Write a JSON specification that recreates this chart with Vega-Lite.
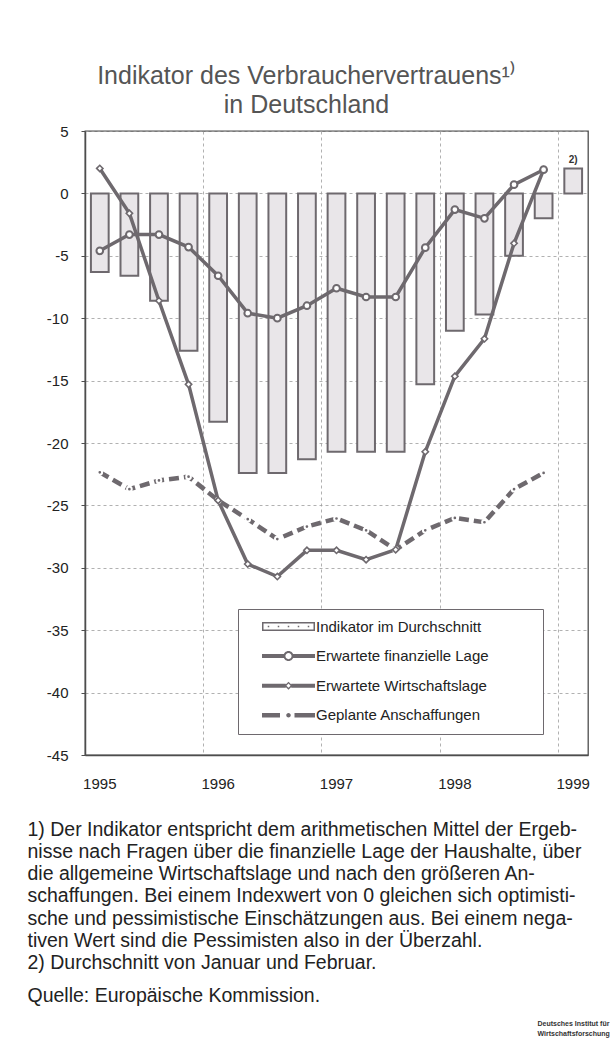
{
  "$schema": "https://vega.github.io/schema/vega-lite/v6.json",
  "width": 503,
  "height": 624,
  "autosize": {"type": "none"},
  "padding": {"left": 85, "top": 131, "right": 24, "bottom": 289},
  "background": "white",
  "config": {
    "font": "Liberation Sans",
    "view": {"stroke": "#4d4d4d", "strokeWidth": 1.3},
    "axis": {"labelFont": "Liberation Sans", "titleFont": "Liberation Sans"},
    "legend": {"labelFont": "Liberation Sans"}
  },
  "title": {
    "text": ["Indikator des Verbrauchervertrauens¹⁾", "in Deutschland"],
    "font": "Liberation Sans",
    "fontSize": 25,
    "fontWeight": "normal",
    "color": "#555555",
    "lineHeight": 29,
    "anchor": "middle",
    "frame": "group",
    "dx": -30,
    "offset": 6
  },
  "data": {
    "values": [
      {"q": "1995-1", "series": "Indikator im Durchschnitt", "value": -6.3},
      {"q": "1995-2", "series": "Indikator im Durchschnitt", "value": -6.6},
      {"q": "1995-3", "series": "Indikator im Durchschnitt", "value": -8.6},
      {"q": "1995-4", "series": "Indikator im Durchschnitt", "value": -12.6},
      {"q": "1996-1", "series": "Indikator im Durchschnitt", "value": -18.3},
      {"q": "1996-2", "series": "Indikator im Durchschnitt", "value": -22.4},
      {"q": "1996-3", "series": "Indikator im Durchschnitt", "value": -22.4},
      {"q": "1996-4", "series": "Indikator im Durchschnitt", "value": -21.3},
      {"q": "1997-1", "series": "Indikator im Durchschnitt", "value": -20.7},
      {"q": "1997-2", "series": "Indikator im Durchschnitt", "value": -20.7},
      {"q": "1997-3", "series": "Indikator im Durchschnitt", "value": -20.7},
      {"q": "1997-4", "series": "Indikator im Durchschnitt", "value": -15.3},
      {"q": "1998-1", "series": "Indikator im Durchschnitt", "value": -11.0},
      {"q": "1998-2", "series": "Indikator im Durchschnitt", "value": -9.7},
      {"q": "1998-3", "series": "Indikator im Durchschnitt", "value": -5.0},
      {"q": "1998-4", "series": "Indikator im Durchschnitt", "value": -2.0},
      {"q": "1999-1", "series": "Indikator im Durchschnitt", "value": 2.0, "note": "2)"},

      {"q": "1995-1", "series": "Erwartete finanzielle Lage", "value": -4.6},
      {"q": "1995-2", "series": "Erwartete finanzielle Lage", "value": -3.3},
      {"q": "1995-3", "series": "Erwartete finanzielle Lage", "value": -3.3},
      {"q": "1995-4", "series": "Erwartete finanzielle Lage", "value": -4.3},
      {"q": "1996-1", "series": "Erwartete finanzielle Lage", "value": -6.6},
      {"q": "1996-2", "series": "Erwartete finanzielle Lage", "value": -9.6},
      {"q": "1996-3", "series": "Erwartete finanzielle Lage", "value": -10.0},
      {"q": "1996-4", "series": "Erwartete finanzielle Lage", "value": -9.0},
      {"q": "1997-1", "series": "Erwartete finanzielle Lage", "value": -7.6},
      {"q": "1997-2", "series": "Erwartete finanzielle Lage", "value": -8.3},
      {"q": "1997-3", "series": "Erwartete finanzielle Lage", "value": -8.3},
      {"q": "1997-4", "series": "Erwartete finanzielle Lage", "value": -4.35},
      {"q": "1998-1", "series": "Erwartete finanzielle Lage", "value": -1.3},
      {"q": "1998-2", "series": "Erwartete finanzielle Lage", "value": -2.0},
      {"q": "1998-3", "series": "Erwartete finanzielle Lage", "value": 0.7},
      {"q": "1998-4", "series": "Erwartete finanzielle Lage", "value": 1.9},

      {"q": "1995-1", "series": "Erwartete Wirtschaftslage", "value": 2.0},
      {"q": "1995-2", "series": "Erwartete Wirtschaftslage", "value": -1.6},
      {"q": "1995-3", "series": "Erwartete Wirtschaftslage", "value": -8.6},
      {"q": "1995-4", "series": "Erwartete Wirtschaftslage", "value": -15.3},
      {"q": "1996-1", "series": "Erwartete Wirtschaftslage", "value": -24.6},
      {"q": "1996-2", "series": "Erwartete Wirtschaftslage", "value": -29.7},
      {"q": "1996-3", "series": "Erwartete Wirtschaftslage", "value": -30.7},
      {"q": "1996-4", "series": "Erwartete Wirtschaftslage", "value": -28.6},
      {"q": "1997-1", "series": "Erwartete Wirtschaftslage", "value": -28.6},
      {"q": "1997-2", "series": "Erwartete Wirtschaftslage", "value": -29.35},
      {"q": "1997-3", "series": "Erwartete Wirtschaftslage", "value": -28.55},
      {"q": "1997-4", "series": "Erwartete Wirtschaftslage", "value": -20.7},
      {"q": "1998-1", "series": "Erwartete Wirtschaftslage", "value": -14.65},
      {"q": "1998-2", "series": "Erwartete Wirtschaftslage", "value": -11.65},
      {"q": "1998-3", "series": "Erwartete Wirtschaftslage", "value": -4.0},
      {"q": "1998-4", "series": "Erwartete Wirtschaftslage", "value": 1.9},

      {"q": "1995-1", "series": "Geplante Anschaffungen", "value": -22.35},
      {"q": "1995-2", "series": "Geplante Anschaffungen", "value": -23.7},
      {"q": "1995-3", "series": "Geplante Anschaffungen", "value": -23.0},
      {"q": "1995-4", "series": "Geplante Anschaffungen", "value": -22.7},
      {"q": "1996-1", "series": "Geplante Anschaffungen", "value": -24.6},
      {"q": "1996-2", "series": "Geplante Anschaffungen", "value": -26.1},
      {"q": "1996-3", "series": "Geplante Anschaffungen", "value": -27.7},
      {"q": "1996-4", "series": "Geplante Anschaffungen", "value": -26.7},
      {"q": "1997-1", "series": "Geplante Anschaffungen", "value": -26.05},
      {"q": "1997-2", "series": "Geplante Anschaffungen", "value": -27.0},
      {"q": "1997-3", "series": "Geplante Anschaffungen", "value": -28.55},
      {"q": "1997-4", "series": "Geplante Anschaffungen", "value": -27.0},
      {"q": "1998-1", "series": "Geplante Anschaffungen", "value": -26.0},
      {"q": "1998-2", "series": "Geplante Anschaffungen", "value": -26.35},
      {"q": "1998-3", "series": "Geplante Anschaffungen", "value": -23.7},
      {"q": "1998-4", "series": "Geplante Anschaffungen", "value": -22.4}
    ]
  },
  "layer": [
    {
      "encoding": {
        "x": {
          "field": "q",
          "type": "ordinal",
          "scale": {"paddingInner": 0, "paddingOuter": 0},
          "axis": {
            "bandPosition": 0,
            "labelOffset": 0,
            "values": ["1995-1", "1996-1", "1997-1", "1998-1", "1999-1"],
            "labelExpr": "substring(datum.label, 0, 4)",
            "labelAngle": 0,
            "labelFontSize": 15,
            "labelColor": "#222222",
            "labelPadding": 21,
            "ticks": false,
            "domainColor": "#4d4d4d",
            "domainWidth": 1.5,
            "grid": true,
            "gridColor": "#9d9d9d",
            "gridDash": [3, 3],
            "gridWidth": 0.8,
            "title": [
              "1) Der Indikator entspricht dem arithmetischen Mittel der Ergeb-",
              "nisse nach Fragen über die finanzielle Lage der Haushalte, über",
              "die allgemeine Wirtschaftslage und nach den größeren An-",
              "schaffungen. Bei einem Indexwert von 0 gleichen sich optimisti-",
              "sche und pessimistische Einschätzungen aus. Bei einem nega-",
              "tiven Wert sind die Pessimisten also in der Überzahl.",
              "2) Durchschnitt von Januar und Februar."
            ],
            "titleFontSize": 19.5,
            "titleFontWeight": "normal",
            "titleColor": "#222222",
            "titleAnchor": "start",
            "titleAlign": "left",
            "titleBaseline": "alphabetic",
            "titleX": -58,
            "titleY": 80,
            "titleLineHeight": 22.3,
            "titleLimit": 1000
          }
        },
        "y": {
          "field": "value",
          "type": "quantitative",
          "scale": {"domain": [-45, 5], "nice": false, "zero": false},
          "axis": {
            "values": [-45, -40, -35, -30, -25, -20, -15, -10, -5, 0, 5],
            "labelExpr": "'' + datum.value",
            "labelFontSize": 15,
            "labelColor": "#222222",
            "tickSize": 4,
            "tickColor": "#4d4d4d",
            "labelPadding": 13,
            "domainColor": "#4d4d4d",
            "domainWidth": 1.5,
            "grid": true,
            "gridColor": "#9d9d9d",
            "gridDash": [3, 3],
            "gridWidth": 0.8,
            "title": "Quelle: Europäische Kommission.",
            "titleAngle": 0,
            "titleAlign": "left",
            "titleBaseline": "alphabetic",
            "titleX": -58,
            "titleY": 870,
            "titleFontSize": 19.5,
            "titleFontWeight": "normal",
            "titleColor": "#222222",
            "titleLimit": 1000
          }
        }
      },
      "layer": [
        {
          "transform": [{"filter": "datum.series === 'Indikator im Durchschnitt'"}],
          "mark": {"type": "bar", "width": {"band": 0.6}, "fill": "#e9e6e9", "stroke": "#6e696e", "strokeWidth": 2},
          "encoding": {"y2": {"datum": 0}}
        },
        {
          "transform": [{"filter": "datum.note"}],
          "mark": {"type": "text", "dy": -5, "baseline": "alphabetic", "fontSize": 10, "fontWeight": "bold", "color": "#333333"},
          "encoding": {"text": {"field": "note"}}
        },
        {
          "transform": [{"filter": "datum.series === 'Geplante Anschaffungen'"}],
          "mark": {"type": "line", "stroke": "#6e696e", "strokeWidth": 4.5, "strokeDash": [10, 5]}
        },
        {
          "transform": [{"filter": "datum.series === 'Erwartete Wirtschaftslage'"}],
          "mark": {"type": "line", "stroke": "#6e696e", "strokeWidth": 3.5}
        },
        {
          "transform": [{"filter": "datum.series === 'Erwartete finanzielle Lage'"}],
          "mark": {"type": "line", "stroke": "#6e696e", "strokeWidth": 3.5}
        },
        {
          "transform": [{"filter": "datum.series === 'Geplante Anschaffungen'"}],
          "mark": {"type": "point", "shape": "circle", "filled": true, "fill": "#6e696e", "stroke": "white", "strokeWidth": 2, "size": 22, "opacity": 1}
        },
        {
          "transform": [{"filter": "datum.series === 'Erwartete Wirtschaftslage'"}],
          "mark": {"type": "point", "shape": "diamond", "filled": true, "fill": "white", "stroke": "#6e696e", "strokeWidth": 1.6, "size": 40, "opacity": 1}
        },
        {
          "transform": [{"filter": "datum.series === 'Erwartete finanzielle Lage'"}],
          "mark": {"type": "point", "shape": "circle", "filled": true, "fill": "white", "stroke": "#6e696e", "strokeWidth": 2, "size": 45, "opacity": 1}
        }
      ]
    },
    {
      "transform": [{"filter": "false"}],
      "mark": {"type": "point", "filled": true, "fill": "#6e696e", "strokeWidth": 0, "opacity": 1},
      "encoding": {
        "y": {
          "field": "value",
          "type": "quantitative",
          "scale": {"domain": [0, 1]},
          "axis": {
            "orient": "right",
            "domain": false,
            "ticks": false,
            "labels": false,
            "grid": false,
            "title": ["Deutsches Institut für", "Wirtschaftsforschung"],
            "titleAngle": 0,
            "titleAlign": "left",
            "titleBaseline": "alphabetic",
            "titleX": -51,
            "titleY": 894,
            "titleFontSize": 7,
            "titleFontWeight": "bold",
            "titleColor": "#333333",
            "titleLineHeight": 10,
            "titleLimit": 1000
          }
        },
        "shape": {
          "field": "series",
          "type": "nominal",
          "scale": {
            "domain": ["Indikator im Durchschnitt", "Erwartete finanzielle Lage", "Erwartete Wirtschaftslage", "Geplante Anschaffungen"],
            "range": [
              "M-5.3,-0.9H5.3V0.9H-5.3Z M-5,-0.6V0.6H5V-0.6Z M-4.15,-0.15h0.3v0.3h-0.3Z M-2.15,-0.15h0.3v0.3h-0.3Z M-0.15,-0.15h0.3v0.3h-0.3Z M1.85,-0.15h0.3v0.3h-0.3Z M3.85,-0.15h0.3v0.3h-0.3Z",
              "M-5.3,-0.4H-0.85V0.4H-5.3Z M0.85,-0.4H5.3V0.4H0.85Z M1,0A1,1 0 1,1 -1,0A1,1 0 1,1 1,0Z M0.62,0A0.62,0.62 0 1,0 -0.62,0A0.62,0.62 0 1,0 0.62,0Z",
              "M-5.3,-0.4H-0.55V0.4H-5.3Z M0.55,-0.4H5.3V0.4H0.55Z M0,-0.8L0.8,0L0,0.8L-0.8,0Z M0,-0.42L-0.42,0L0,0.42L0.42,0Z",
              "M-5.3,-0.45H-1.7V0.45H-5.3Z M0.45,0A0.45,0.45 0 1,1 -0.45,0A0.45,0.45 0 1,1 0.45,0Z M1.2,-0.45H5.3V0.45H1.2Z"
            ]
          },
          "legend": {
            "title": null,
            "orient": "none",
            "legendX": 153,
            "legendY": 478,
            "padding": 10,
            "strokeColor": "#6e696e",
            "fillColor": "white",
            "symbolSize": 100,
            "symbolStrokeWidth": 0,
            "symbolOpacity": 1,
            "symbolOffset": 33,
            "labelOffset": 20,
            "rowPadding": 13.6,
            "labelFontSize": 15,
            "labelColor": "#222222",
            "labelLimit": 1000,
            "labelExpr": "datum.label + '\u2800\u2800\u2800\u2800'"
          }
        }
      }
    }
  ],
  "resolve": {"scale": {"y": "independent"}}
}
